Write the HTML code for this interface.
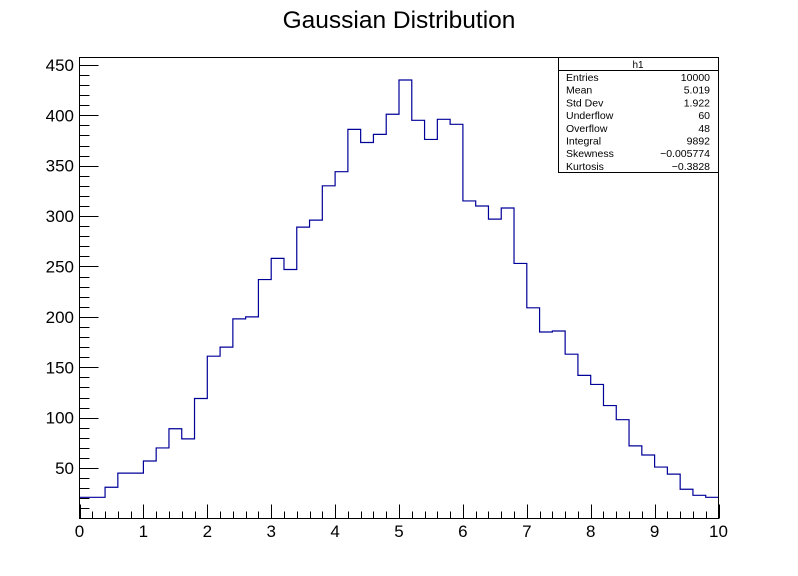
<!DOCTYPE html>
<html><head><meta charset="utf-8"><style>
html,body{margin:0;padding:0;background:#fff;}
svg{display:block;font-family:"Liberation Sans",Arial,sans-serif;}
</style></head><body>
<svg id="chart" width="798" height="576" viewBox="0 0 798 576">
<rect x="0" y="0" width="798" height="576" fill="#fff"/>
<text x="399" y="28" font-size="24.5" text-anchor="middle">Gaussian Distribution</text>
<g id="axes"></g>
<path id="hist" fill="none" stroke="#000099" stroke-width="1.2" transform="translate(0,1)"/>
<rect x="79.5" y="57.5" width="639" height="461" fill="none" stroke="#000" stroke-width="1"/>
<g>
<rect x="558.5" y="57.5" width="160" height="115" fill="#fff" stroke="#000"/>
<line x1="558.5" y1="70.5" x2="718.5" y2="70.5" stroke="#000"/>
<text x="638" y="68" font-size="10" text-anchor="middle">h1</text>
<g font-size="10.5" id="stats"></g>
</g>
</svg>
<script>
const binEdgesMin = 0, binEdgesMax = 10;
const counts = [22,22,32,46,46,58,71,90,80,120,162,171,199,201,238,259,248,290,297,331,345,387,374,382,402,436,396,377,397,392,316,311,298,309,254,210,186,187,164,143,134,113,99,73,64,52,45,30,24,22];
const yTicks = [50,100,150,200,250,300,350,400,450];
const xTicks = [0,1,2,3,4,5,6,7,8,9,10];
const statLabels = ["Entries","Mean","Std Dev","Underflow","Overflow","Integral","Skewness","Kurtosis"];
const statValues = ["10000","5.019","1.922","60","48","9892","\u22120.005774","\u22120.3828"];

const X0=79.5, X1=718.5, Y0=518.5, YMAX=457.3;
function xs(v){return X0+(v-binEdgesMin)/(binEdgesMax-binEdgesMin)*(X1-X0);}
function ys(v){return Y0-v/YMAX*(Y0-57.5);}
const NS="http://www.w3.org/2000/svg";
const axes=document.getElementById('axes');
function mk(tag,attrs,parent){const e=document.createElementNS(NS,tag);for(const k in attrs)e.setAttribute(k,attrs[k]);(parent||axes).appendChild(e);return e;}

const w=(binEdgesMax-binEdgesMin)/counts.length;
let d="M"+xs(0)+","+ys(counts[0]);
counts.forEach((c,i)=>{d+=" H"+xs((i+1)*w);if(i+1<counts.length)d+=" V"+ys(counts[i+1]);});
document.getElementById('hist').setAttribute('d',d);

for(let v=10;v<=450;v+=10){
  const major=v%50===0;const y=Math.round(ys(v))+0.5;
  const t=mk('line',{x1:X0,x2:X0+(major?19:10),y1:y,y2:y,stroke:'#000','stroke-width':1});
  
  
}
yTicks.forEach(v=>{
  const t=mk('text',{x:74,y:ys(v)+6,'font-size':17,'text-anchor':'end'});
  t.textContent=v;
  
  
});
for(let i=0;i<=50;i++){
  const v=i*0.2;const major=i%5===0;const x=Math.round(xs(v))+0.5;
  const t=mk('line',{x1:x,x2:x,y1:Y0,y2:Y0-(major?14:7),stroke:'#000','stroke-width':1});
  
  
}
xTicks.forEach(v=>{
  const t=mk('text',{x:xs(v),y:537,'font-size':17,'text-anchor':'middle'});
  t.textContent=v;
  
  
});
const sg=document.getElementById('stats');
statLabels.forEach((l,i)=>{
  const y=81+i*12.7;
  const a=mk('text',{x:566,y:y},sg);a.textContent=l;
  
  
  const b=mk('text',{x:710,y:y,'text-anchor':'end'},sg);b.textContent=statValues[i];
  
  
});
</script>
</body></html>
